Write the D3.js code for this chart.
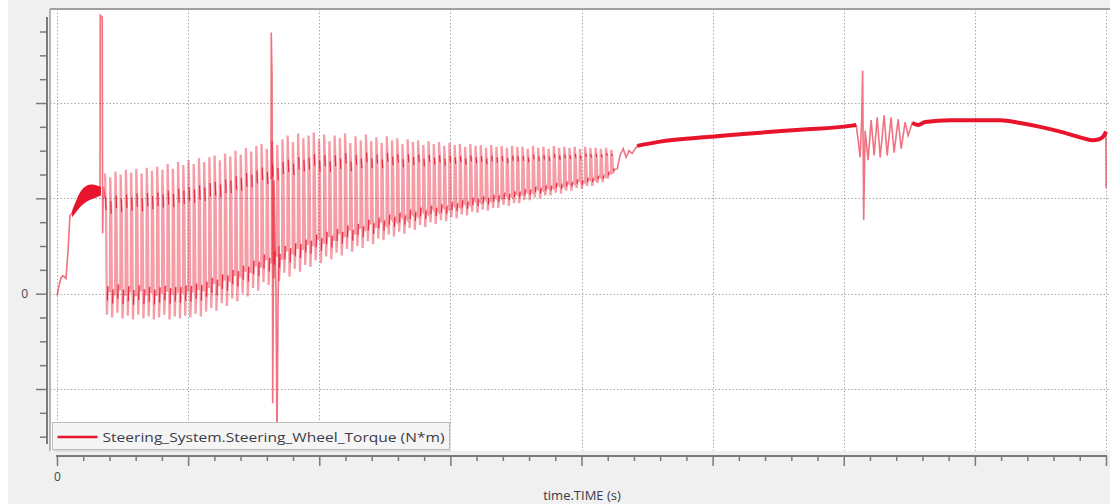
<!DOCTYPE html>
<html>
<head>
<meta charset="utf-8">
<script src="https://cdn.jsdelivr.net/npm/d3@7"></script>
<style>
  body { margin: 0; background: #f0f0f0; }
  svg { display: block; }
  text { font-family: "Open Sans", "DejaVu Sans", sans-serif; }
</style>
</head>
<body>
<svg id="chart" width="1110" height="504"></svg>
<script>
// ── data (time in s, torque in N*m) ─────────────────────────────────────────
const xMajor = [0, 1, 2, 3, 4, 5, 6, 7, 8];
const yMajor = [-1, 0, 1, 2];
const xLabels = ["0"];
const yLabels = ["0"];
const seriesName = "Steering_System.Steering_Wheel_Torque (N*m)";
const xTitle = "time.TIME (s)";

// start-up ramp
const rampT = [0, 0.015, 0.031, 0.046, 0.069, 0.084, 0.099, 0.122];
const rampV = [-0.02, 0.08, 0.17, 0.19, 0.16, 0.45, 0.82, 0.86];

// noisy plateau before the oscillation starts (band upper / lower edge)
const bandT  = [0.115, 0.138, 0.175, 0.215, 0.26, 0.30, 0.335];
const bandHi = [0.87, 0.95, 1.07, 1.13, 1.15, 1.14, 1.12];
const bandLo = [0.80, 0.84, 0.91, 0.96, 0.99, 1.01, 1.03];

// first spike
const spikeAT = [0.328, 0.330, 0.345, 0.348, 0.354, 0.366];
const spikeAV = [1.10, 2.92, 2.90, 0.63, 1.12, 1.00];

// limit-cycle oscillation: one peak / trough per cycle
const oscStart = 0.366;
const oscPeriod = 0.0398;
const oscHi = [
  1.26, 1.22, 1.28, 1.25, 1.30, 1.27, 1.31, 1.26, 1.32, 1.29,
  1.33, 1.30, 1.36, 1.31, 1.38, 1.35, 1.40, 1.36, 1.42, 1.38,
  1.43, 1.45, 1.40, 1.47, 1.44, 1.50, 1.46, 1.53, 1.49, 1.55,
  1.57, 1.52, 1.60, 1.56, 1.62, 1.66, 1.59, 1.68, 1.63, 1.66,
  1.69, 1.62, 1.67, 1.60, 1.66, 1.63, 1.68, 1.58, 1.65, 1.61,
  1.67, 1.60, 1.64, 1.58, 1.65, 1.61, 1.63, 1.57, 1.62, 1.59,
  1.61, 1.56, 1.60, 1.57, 1.59, 1.55, 1.58, 1.56, 1.57, 1.54,
  1.57, 1.55, 1.56, 1.53, 1.56, 1.54, 1.55, 1.53, 1.55, 1.54,
  1.54, 1.52, 1.55, 1.53, 1.54, 1.52, 1.55, 1.53, 1.54, 1.53,
  1.54, 1.52, 1.54, 1.53, 1.53, 1.52, 1.53, 1.51
];
const oscLo = [
  -0.22, -0.25, -0.20, -0.26, -0.23, -0.27, -0.22, -0.26, -0.24, -0.27,
  -0.25, -0.22, -0.27, -0.24, -0.26, -0.23, -0.25, -0.21, -0.24, -0.19,
  -0.15, -0.18, -0.10, -0.13, -0.05, -0.08, 0.00, -0.03, 0.06, 0.03,
  0.12, 0.09, 0.16, 0.13, 0.22, 0.18, 0.26, 0.23, 0.30, 0.28,
  0.35, 0.32, 0.39, 0.36, 0.43, 0.40, 0.47, 0.44, 0.50, 0.48,
  0.55, 0.52, 0.58, 0.56, 0.62, 0.60, 0.65, 0.63, 0.69, 0.67,
  0.72, 0.70, 0.75, 0.73, 0.77, 0.76, 0.80, 0.79, 0.83, 0.82,
  0.86, 0.85, 0.88, 0.87, 0.90, 0.90, 0.93, 0.92, 0.95, 0.95,
  0.98, 0.98, 1.01, 1.00, 1.03, 1.03, 1.06, 1.05, 1.08, 1.08,
  1.11, 1.10, 1.13, 1.13, 1.16, 1.17, 1.21, 1.26
];

// big spike in the middle of the oscillation
const spikeBT = [1.632, 1.634, 1.640, 1.645, 1.655, 1.670, 1.678, 1.686, 1.693];
const spikeBV = [1.20, 2.74, 2.29, -1.15, 1.19, 0.03, -1.60, -0.07, 0.50];

// oscillation dies out
const settleT = [4.271, 4.294, 4.318, 4.340, 4.363, 4.386, 4.424];
const settleV = [1.30, 1.45, 1.52, 1.43, 1.50, 1.47, 1.55];

// calm, slowly rising part
const calmAT = [4.424, 4.600, 4.905, 5.286, 5.668, 6.049, 6.095];
const calmAV = [1.55, 1.595, 1.637, 1.68, 1.72, 1.76, 1.77];

// disturbance around t = 6.1 s
const bumpT = [6.095, 6.110, 6.125, 6.137, 6.144, 6.152, 6.163, 6.186, 6.209, 6.232,
               6.255, 6.278, 6.308, 6.331, 6.361, 6.384, 6.415, 6.438, 6.468, 6.491,
               6.522, 6.567];
const bumpV = [1.77, 1.61, 1.43, 1.84, 2.34, 0.77, 1.71, 1.40, 1.82, 1.45,
               1.85, 1.43, 1.87, 1.45, 1.85, 1.48, 1.83, 1.52, 1.80, 1.66,
               1.79, 1.77];

// calm part to the end
const calmBT = [6.522, 6.567, 6.621, 6.812, 7.002, 7.193, 7.346, 7.498, 7.651, 7.803,
                7.895, 7.948, 7.986, 8.0];
const calmBV = [1.79, 1.77, 1.80, 1.82, 1.82, 1.82, 1.79, 1.75, 1.70, 1.64,
                1.61, 1.62, 1.66, 1.70];

// final drop
const endT = [7.999, 8.0, 8.001];
const endV = [1.70, 1.40, 1.11];

// ── layout ──────────────────────────────────────────────────────────────────
const W = 1110, H = 504;
const plot = { left: 50, right: 1110, top: 9, bottom: 451 };
const RED = "#e8142b";

const svg = d3.select("#chart");

const x = d3.scaleLinear().domain([0, 8]).range([57, 1106]);
const y = d3.scaleLinear().domain([-1, 2]).range([389, 103]);

// page + plot background
svg.append("rect").attr("x", 0).attr("y", 0).attr("width", 8).attr("height", H).attr("fill", "#ffffff");
svg.append("rect")
  .attr("x", plot.left).attr("y", plot.top)
  .attr("width", plot.right - plot.left).attr("height", plot.bottom - plot.top)
  .attr("fill", "#ffffff");

svg.append("defs").append("clipPath").attr("id", "plotClip")
  .append("rect")
  .attr("x", plot.left).attr("y", plot.top)
  .attr("width", plot.right - plot.left).attr("height", plot.bottom - plot.top);

// grid
const grid = svg.append("g").attr("class", "grid")
  .attr("stroke", "#a9a9a9").attr("stroke-dasharray", "1.5,2").attr("stroke-width", 1);
grid.selectAll(".vg").data(xMajor).join("line")
  .attr("class", "vg")
  .attr("x1", d => Math.round(x(d)) + 0.5).attr("x2", d => Math.round(x(d)) + 0.5)
  .attr("y1", plot.top).attr("y2", plot.bottom);
grid.selectAll(".hg").data(yMajor).join("line")
  .attr("class", "hg")
  .attr("y1", d => Math.round(y(d)) + 0.5).attr("y2", d => Math.round(y(d)) + 0.5)
  .attr("x1", plot.left).attr("x2", plot.right);

// plot frame (top + left)
svg.append("line").attr("x1", plot.left).attr("x2", plot.right)
  .attr("y1", plot.top).attr("y2", plot.top).attr("stroke", "#a0a0a0").attr("stroke-width", 2);
svg.append("line").attr("x1", plot.left).attr("x2", plot.left)
  .attr("y1", plot.top).attr("y2", plot.bottom).attr("stroke", "#a0a0a0").attr("stroke-width", 1.5);

// ── signal ──────────────────────────────────────────────────────────────────
const lines = svg.append("g").attr("clip-path", "url(#plotClip)");
const line = d3.line().x(d => x(d[0])).y(d => y(d[1]));
const zipTV = (ts, vs) => ts.map((t, i) => [t, vs[i]]);

// oscillation: each cycle = jump to peak, short dwell, fall to trough, dwell
const oscPts = [];
const dwellSegs = [];
oscHi.forEach((hi, i) => {
  const lo = oscLo[i];
  const amp = hi - lo;
  const t0 = oscStart + i * oscPeriod;
  const p = oscPeriod;
  const a = [t0 + 0.12 * p, hi - 0.17 * amp];
  const b = [t0 + 0.20 * p, hi - 0.26 * amp];
  const c = [t0 + 0.46 * p, lo + 0.10 * amp];
  const e = [t0 + 0.52 * p, lo + 0.20 * amp];
  oscPts.push([t0, hi], a, b, [t0 + 0.36 * p, lo], c, e, [t0 + 0.94 * p, lo + 0.16 * amp]);
  dwellSegs.push([a, b], [c, e]);
});

const bandArea = d3.area()
  .x((d, i) => x(bandT[i]))
  .y0((d, i) => y(bandLo[i]))
  .y1((d, i) => y(bandHi[i]))
  .curve(d3.curveBasis);

lines.append("path").datum(bandT).attr("d", bandArea).attr("fill", RED);

// fast transients, drawn light like the thin anti-aliased trace
lines.append("path").datum(oscPts)
  .attr("d", line)
  .attr("fill", "none")
  .attr("stroke", RED)
  .attr("stroke-opacity", 0.42)
  .attr("stroke-width", 2.3);

lines.selectAll(".dwell").data(dwellSegs).join("path")
  .attr("class", "dwell")
  .attr("d", line)
  .attr("fill", "none")
  .attr("stroke", RED)
  .attr("stroke-opacity", 0.85)
  .attr("stroke-width", 1.2);

const thin = [
  zipTV(rampT, rampV),
  zipTV(spikeAT, spikeAV),
  zipTV(spikeBT, spikeBV),
  zipTV(settleT, settleV),
  zipTV(bumpT, bumpV),
  zipTV(endT, endV)
];
lines.selectAll(".thin").data(thin).join("path")
  .attr("class", "thin")
  .attr("d", line)
  .attr("fill", "none")
  .attr("stroke", RED)
  .attr("stroke-opacity", 0.6)
  .attr("stroke-width", 1.6);

lines.selectAll(".thick").data([zipTV(calmAT, calmAV), zipTV(calmBT, calmBV)]).join("path")
  .attr("class", "thick")
  .attr("d", line.curve(d3.curveMonotoneX))
  .attr("fill", "none")
  .attr("stroke", RED)
  .attr("stroke-width", 4)
  .attr("stroke-linejoin", "round");

// ── axes ────────────────────────────────────────────────────────────────────
const axisColor = "#7a7a7a";
const labelColor = "#3e4656";

// y axis
const yAxisX = 47;
const yMinor = d3.range(-6, 12).map(k => k * 0.25).filter(v => !yMajor.includes(v));
const yAx = svg.append("g").attr("transform", `translate(${yAxisX},0)`);
yAx.append("line").attr("x1", 0).attr("x2", 0).attr("y1", 17).attr("y2", 444)
  .attr("stroke", axisColor).attr("stroke-width", 2);
yAx.append("g").call(d3.axisLeft(y).tickValues(yMinor).tickSize(7).tickFormat(""))
  .call(g => g.select(".domain").remove())
  .call(g => g.selectAll("line").attr("stroke", axisColor).attr("stroke-width", 1.5));
yAx.append("g").call(d3.axisLeft(y).tickValues(yMajor).tickSize(11).tickPadding(8)
    .tickFormat(d => yLabels.includes(String(d)) ? String(d) : ""))
  .call(g => g.select(".domain").remove())
  .call(g => g.selectAll("line").attr("stroke", axisColor).attr("stroke-width", 1.5))
  .call(g => g.selectAll("text").attr("fill", labelColor).style("font-size", "12px")
    .style("font-family", "'Open Sans', sans-serif"));

// x axis
const xAxisY = 456;
const xMinor = d3.range(0, 41).map(k => k * 0.2).filter(v => !xMajor.some(m => Math.abs(m - v) < 1e-6));
const xAx = svg.append("g").attr("transform", `translate(0,${xAxisY})`);
xAx.append("line").attr("x1", 56).attr("x2", 1107).attr("y1", 0).attr("y2", 0)
  .attr("stroke", axisColor).attr("stroke-width", 2);
xAx.append("g").call(d3.axisBottom(x).tickValues(xMinor).tickSize(5).tickFormat(""))
  .call(g => g.select(".domain").remove())
  .call(g => g.selectAll("line").attr("stroke", axisColor).attr("stroke-width", 1.5));
xAx.append("g").call(d3.axisBottom(x).tickValues(xMajor).tickSize(10).tickPadding(6)
    .tickFormat(d => xLabels.includes(String(d)) ? String(d) : ""))
  .call(g => g.select(".domain").remove())
  .call(g => g.selectAll("line").attr("stroke", axisColor).attr("stroke-width", 1.5))
  .call(g => g.selectAll("text").attr("fill", labelColor).style("font-size", "12px")
    .style("font-family", "'Open Sans', sans-serif"));

svg.append("text")
  .attr("x", 582).attr("y", 500)
  .attr("text-anchor", "middle")
  .attr("fill", "#3a3a48")
  .style("font-size", "13px")
  .text(xTitle);

// ── legend ──────────────────────────────────────────────────────────────────
const legend = svg.append("g").attr("transform", "translate(52.5,422.5)");
legend.append("rect").attr("x", 1).attr("y", 1).attr("width", 397).attr("height", 28)
  .attr("fill", "#d8d8d8");
legend.append("rect").attr("width", 397).attr("height", 27)
  .attr("fill", "#f5f5f5").attr("stroke", "#bdbdbd");
legend.append("line").attr("x1", 5).attr("x2", 45).attr("y1", 14.5).attr("y2", 14.5)
  .attr("stroke", RED).attr("stroke-width", 2.5);
legend.append("text")
  .attr("x", 50).attr("y", 19)
  .attr("fill", "#3c3c48")
  .style("font-size", "13.5px")
  .attr("textLength", 342)
  .attr("lengthAdjust", "spacingAndGlyphs")
  .text(seriesName);
</script>
</body>
</html>
